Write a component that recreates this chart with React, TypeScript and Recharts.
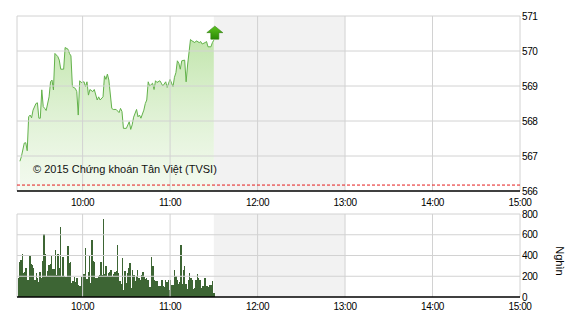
import React from 'react';
import {
    ComposedChart, BarChart, Area, Line, Bar, XAxis, YAxis,
    ReferenceArea, ReferenceLine, ReferenceDot
} from 'recharts';

// Intraday index, sampled trade times (HH:MM) and index values
const priceTimes = [
    '09:17', '09:18', '09:20', '09:21', '09:22', '09:23', '09:24', '09:25', '09:26', '09:28',
    '09:29', '09:30', '09:31', '09:32', '09:33', '09:34', '09:35', '09:37', '09:38', '09:39',
    '09:40', '09:41', '09:43', '09:44', '09:45', '09:47', '09:48', '09:50', '09:51', '09:52',
    '09:53', '09:55', '09:56', '09:57', '09:58', '09:59', '10:01', '10:02', '10:03', '10:04',
    '10:05', '10:07', '10:08', '10:10', '10:11', '10:12', '10:14', '10:15', '10:16', '10:17',
    '10:18', '10:20', '10:21', '10:23', '10:25', '10:26', '10:27', '10:28', '10:30', '10:32',
    '10:33', '10:34', '10:35', '10:37', '10:38', '10:39', '10:40', '10:42', '10:43', '10:44',
    '10:45', '10:46', '10:48', '10:49', '10:50', '10:51', '10:53', '10:54', '10:55', '10:57',
    '10:58', '10:59', '11:00', '11:02', '11:03', '11:04', '11:05', '11:06', '11:07', '11:08',
    '11:10', '11:11', '11:12', '11:14', '11:15', '11:17', '11:18', '11:20', '11:21', '11:22',
    '11:24', '11:25', '11:26', '11:28', '11:29', '11:30'
];
const priceValues = [
    566.85, 566.98, 567.37, 567.38, 567.15, 568.12, 568.17, 568.09, 568.31, 568.50,
    568.52, 568.08, 568.08, 568.89, 568.41, 568.36, 568.30, 568.69, 569.12, 569.17,
    568.89, 569.93, 569.84, 569.74, 569.48, 569.48, 570.10, 570.05, 569.93, 569.86,
    568.98, 568.93, 568.84, 568.17, 569.15, 569.10, 569.12, 568.98, 569.12, 568.74,
    568.90, 568.84, 568.90, 568.60, 568.69, 568.60, 568.69, 569.29, 569.19, 569.34,
    569.17, 568.36, 568.33, 568.33, 568.24, 568.36, 568.27, 567.79, 567.79, 567.98,
    567.76, 567.89, 568.11, 568.33, 568.12, 568.17, 568.08, 568.31, 568.50, 568.60,
    569.12, 569.00, 569.08, 568.90, 569.15, 569.10, 569.15, 569.08, 569.00, 569.12,
    568.96, 569.08, 569.19, 568.98, 569.25, 569.38, 569.72, 569.65, 569.48, 569.72,
    569.74, 569.12, 569.60, 570.33, 570.29, 570.24, 570.29, 570.24, 570.27, 570.20,
    570.24, 570.27, 570.12, 570.12, 570.24, 570.31
];

// Matched volume per trade tick (thousand shares), first to last tick of the morning
const volumeFrom = '09:16';
const volumeTo = '11:30';
const volumeValues = [
    179, 339, 355, 416, 227, 243, 275, 160, 166, 397, 314, 307, 275, 166, 234, 186, 147, 243, 179, 349,
    608, 416, 205, 250, 307, 314, 403, 269, 269, 451, 211, 416, 275, 675, 202, 387, 205, 195, 189, 493,
    323, 339, 138, 154, 195, 141, 179, 115, 109, 109, 195, 224, 218, 474, 173, 237, 397, 131, 547, 349,
    333, 186, 179, 205, 211, 339, 211, 749, 218, 301,
    198, 230, 237, 262, 198, 224, 237, 253, 502, 230, 150, 128, 374, 70, 246, 134, 230, 275, 326, 86,
    256, 214, 150, 205, 256, 182, 166, 214,
    237, 192, 173, 182, 160, 96, 96, 390, 301, 160, 154, 154, 102, 102, 102, 160, 102, 96, 160, 141,
    166, 64, 160, 118, 118, 256, 205, 160, 128, 141, 502, 128, 256, 301, 128, 77, 160, 230, 182, 160,
    80, 83, 160, 218, 186, 166, 83, 102, 109, 182, 109, 102, 96, 118, 118, 150, 38
];

const sessionOpen = '09:15';
const sessionClose = '15:00';
const hourTicks = ['09:15', '10:00', '11:00', '12:00', '13:00', '14:00', '15:00'];
const priceTicks = [566, 567, 568, 569, 570, 571];
const volumeTicks = [0, 200, 400, 600, 800];
const referencePrice = 566.17;
const lunchStart = '11:30';
const lunchEnd = '13:00';
const copyright = '© 2015 Chứng khoán Tân Việt (TVSI)';
const volumeUnit = 'Nghìn';

const toMin = (t: string) => {
    const [h, m] = t.split(':').map(Number);
    return h * 60 + m;
};
const fmtMin = (v: number) => {
    if (v === toMin(sessionOpen)) return '';
    const h = Math.floor(v / 60);
    const m = Math.round(v % 60);
    return `${String(h).padStart(2, '0')}:${String(m).padStart(2, '0')}`;
};

const priceData = priceTimes.map((t, i) => ({ t: toMin(t), price: priceValues[i] }));

const volStart = toMin(volumeFrom);
const volSpan = toMin(volumeTo) - volStart;
const volumeData = volumeValues.map((v, i) => ({
    t: volStart + (i * volSpan) / (volumeValues.length - 1),
    vol: v
}));

const xDomain = [toMin(sessionOpen), toMin(sessionClose)];
const xTicks = hourTicks.map(toMin);
const last = priceData[priceData.length - 1];

const FONT = '"Liberation Sans", Arial, sans-serif';
const tickStyle = { fontSize: 10, fill: '#000', fontFamily: FONT, letterSpacing: -0.4 };
const GRID = '#d2d2d2';

// grid drawn as reference lines so it sits over the lunch band
const gridLines = (yTicks: number[]) => [
    ...xTicks.map((x) => (
        <ReferenceLine key={`gx${x}`} x={x} stroke={GRID} strokeWidth={1} ifOverflow="extendDomain" />
    )),
    ...yTicks.slice(1).map((y) => (
        <ReferenceLine key={`gy${y}`} y={y} stroke={GRID} strokeWidth={1} />
    ))
];

// green "up" marker over the last print
const UpArrow = (props: any) => {
    const { cx, cy } = props;
    if (cx == null || cy == null) return null;
    const x = cx + 1;
    const y = cy - 1;
    const d = `M${x} ${y - 13} L${x + 8} ${y - 6.5} L${x + 4} ${y - 6.5} L${x + 4} ${y} ` +
        `L${x - 4} ${y} L${x - 4} ${y - 6.5} L${x - 8} ${y - 6.5} Z`;
    return (
        <g>
            <defs>
                <linearGradient id="arrowFill" x1="0" y1="0" x2="0" y2="1">
                    <stop offset="0%" stopColor="#5cc21e" />
                    <stop offset="100%" stopColor="#2a8a05" />
                </linearGradient>
            </defs>
            <path d={d} fill="url(#arrowFill)" stroke="#2f7d0c" strokeWidth={0.6} />
        </g>
    );
};

// solid, pixel-snapped volume bar
const VolBar = (props: any) => {
    const { x, y, height } = props;
    if (!height || height <= 0) return null;
    return <rect x={x} y={y} width={1.4} height={height} fill="#3d6534" shapeRendering="crispEdges" />;
};

export default function App() {
    return (
        <div style={{ position: 'absolute', left: 0, top: 0, width: 570, height: 320, background: '#fff' }}>
            <div style={{ position: 'absolute', left: 0, top: 0 }}>
                <ComposedChart
                    width={570}
                    height={212}
                    data={priceData}
                    margin={{ top: 16, right: 0, bottom: 0, left: 17 }}
                >
                    <defs>
                        <linearGradient id="priceFill" x1="0" y1="0" x2="0" y2="1">
                            <stop offset="0%" stopColor="#86cc5c" stopOpacity={0.5} />
                            <stop offset="100%" stopColor="#cfeabf" stopOpacity={0.25} />
                        </linearGradient>
                    </defs>
                    <XAxis
                        dataKey="t"
                        type="number"
                        domain={xDomain}
                        ticks={xTicks}
                        tickFormatter={fmtMin}
                        tick={tickStyle}
                        tickLine={false}
                        axisLine={{ stroke: '#000', strokeWidth: 1.5 }}
                        height={21}
                        interval={0}
                    />
                    <YAxis
                        orientation="right"
                        domain={[566, 571]}
                        ticks={priceTicks}
                        tick={tickStyle}
                        tickLine={false}
                        tickSize={2}
                        tickMargin={0}
                        axisLine={false}
                        width={50}
                        interval={0}
                    />
                    <ReferenceArea
                        x1={toMin(lunchStart)}
                        x2={toMin(lunchEnd)}
                        fill="#f2f2f2"
                        fillOpacity={1}
                        stroke="none"
                    />
                    {gridLines(priceTicks)}
                    <Area
                        type="linear"
                        dataKey="price"
                        stroke="#63b24b"
                        strokeWidth={1}
                        fill="url(#priceFill)"
                        fillOpacity={1}
                        isAnimationActive={false}
                        dot={false}
                        activeDot={false}
                    />
                    <ReferenceLine
                        y={referencePrice}
                        stroke="#e41b1b"
                        strokeDasharray="3 2"
                        strokeWidth={1}
                    />
                    <ReferenceDot
                        x={last.t}
                        y={last.price}
                        shape={UpArrow}
                        ifOverflow="visible"
                    />
                </ComposedChart>
            </div>
            <div
                style={{
                    position: 'absolute', left: 33, top: 162, fontFamily: FONT, fontSize: 11,
                    color: '#111', whiteSpace: 'nowrap', lineHeight: '14px'
                }}
            >
                {copyright}
            </div>
            <div style={{ position: 'absolute', left: 0, top: 200 }}>
                <BarChart
                    width={570}
                    height={120}
                    data={volumeData}
                    margin={{ top: 14, right: 0, bottom: 0, left: 17 }}
                    barCategoryGap={0}
                >
                    <XAxis
                        dataKey="t"
                        type="number"
                        domain={xDomain}
                        ticks={xTicks}
                        tickFormatter={fmtMin}
                        tick={tickStyle}
                        tickLine={false}
                        tickSize={5}
                        tickMargin={1}
                        axisLine={{ stroke: '#000', strokeWidth: 1.5 }}
                        height={23}
                        interval={0}
                    />
                    <YAxis
                        orientation="right"
                        domain={[0, 800]}
                        ticks={volumeTicks}
                        tick={tickStyle}
                        tickLine={false}
                        tickSize={2}
                        tickMargin={0}
                        axisLine={false}
                        width={50}
                        interval={0}
                    />
                    <ReferenceArea
                        x1={toMin(lunchStart)}
                        x2={toMin(lunchEnd)}
                        fill="#f2f2f2"
                        fillOpacity={1}
                        stroke="none"
                    />
                    {gridLines(volumeTicks)}
                    <Bar
                        dataKey="vol"
                        fill="#3d6534"
                        barSize={1}
                        shape={VolBar}
                        isAnimationActive={false}
                    />
                </BarChart>
            </div>
            <div
                style={{
                    position: 'absolute', left: 545, top: 255, width: 30, textAlign: 'center',
                    transform: 'rotate(90deg)', fontFamily: FONT, fontSize: 11, color: '#000',
                    lineHeight: '12px'
                }}
            >
                {volumeUnit}
            </div>
        </div>
    );
}
